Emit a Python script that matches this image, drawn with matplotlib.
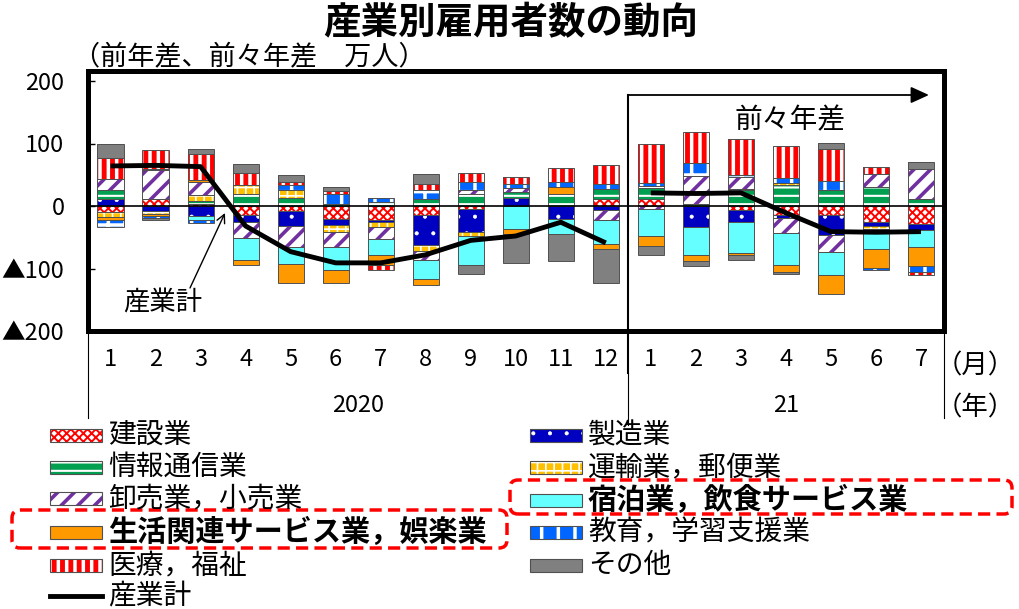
import matplotlib
matplotlib.use('Agg')
import matplotlib.pyplot as plt
from matplotlib.patches import Rectangle, FancyBboxPatch
from matplotlib.lines import Line2D
import numpy as np

plt.rcParams['font.family'] = ['Noto Sans CJK JP', 'DejaVu Sans']

# ---------------- data ----------------
months = ['1', '2', '3', '4', '5', '6', '7', '8', '9', '10', '11', '12',
          '1', '2', '3', '4', '5', '6', '7']
years = ['2020', '21']

construction  = [-9, 11, 3, -14, -8, -21, -22, -14, -4, 0, 0, 11, 11, 0, -6, -14, -14, -26, -29]
manufacturing = [11, -8, -16, -11, -24, -9, -4, -49, -37, 13, -20, -6, 0, -33, -20, -5, -32, -6, -9]
info_comm     = [14, 0, 5, 19, 13, 3, 7, 12, 20, 10, 19, 16, 18, 4, 25, 33, 25, 30, 12]
transport     = [-9, -4, 10, 15, 13, -11, -7, -9, -7, 0, 0, 0, 3, 0, 3, 4, 0, -5, 0]
wholesale     = [19, 46, 20, -26, -34, -25, -19, -14, 5, 6, 1, -17, -5, 44, 18, -24, -28, 21, 48]
accommodation = [0, 3, -7, -36, -27, -36, -26, -31, -47, -37, -24, -37, -43, -46, -49, -52, -37, -32, -27]
living        = [-4, -4, 3, -8, -30, -21, -16, -10, 0, -7, 10, -9, -16, -9, -4, -11, -30, -30, -31]
education     = [-12, -3, -4, 0, 7, 17, 6, 14, 13, 6, 8, 9, 5, 21, 4, 8, 15, -3, -9]
medical       = [33, 29, 43, 19, 5, 4, -8, 10, 15, 11, 23, 29, 62, 50, 57, 51, 51, 12, -6]
others        = [23, -4, 8, 15, 12, 7, 0, 16, -13, -47, -44, -54, -14, -8, -8, -2, 10, 0, 10]

total_2020 = [64, 65, 63, -32, -73, -91, -91, -78, -55, -48, -26, -59]
total_2021 = [21, 20, 21, -11, -41, -42, -41]

names = ['建設業', '製造業', '情報通信業', '運輸業，郵便業', '卸売業，小売業',
         '宿泊業，飲食サービス業', '生活関連サービス業，娯楽業', '教育，学習支援業',
         '医療，福祉', 'その他']
values = [construction, manufacturing, info_comm, transport, wholesale,
          accommodation, living, education, medical, others]

# styles: face, hatch, hatch colour, hatch linewidth
styles = [
    ('white', 'xxxx', '#FF0000', 1.4),
    ('#0000C0', '.', 'white', 0.5),
    ('#00A050', '--', 'white', 1.5),
    ('#FFC000', '++', 'white', 1.2),
    ('white', '//', '#7030A0', 2.6),
    ('#66FFFF', None, '#66FFFF', 1.0),
    ('#FF9900', None, '#FF9900', 1.0),
    ('#0066FF', '+', 'white', 2.5),
    ('white', '||', '#FF0000', 3.5),
    ('#808080', None, '#808080', 1.0),
]

W, H = 1019, 609
fig = plt.figure(figsize=(W / 100, H / 100), dpi=100)
ax = fig.add_axes([88 / W, (H - 331) / H, (943.5 - 88) / W, (331 - 71) / H])

x = np.arange(len(months))
width = 0.58
pos_base = np.zeros(len(months))
neg_base = np.zeros(len(months))

for vals, (face, hatch, hcol, hlw) in zip(values, styles):
    v = np.array(vals, dtype=float)
    pos = np.where(v > 0, v, 0)
    neg = np.where(v < 0, v, 0)
    for part, base in ((pos, pos_base), (neg, neg_base)):
        m = part != 0
        if not m.any():
            continue
        with plt.rc_context({'hatch.linewidth': hlw}):
            ax.bar(x[m], part[m], bottom=base[m], width=width, color=face,
                   edgecolor=hcol, linewidth=0, hatch=hatch, zorder=2)
        ax.bar(x[m], part[m], bottom=base[m], width=width, fill=False,
               edgecolor='#505050', linewidth=0.7, zorder=2.5)
    pos_base += pos
    neg_base += neg

ax.axhline(0, color='black', lw=1.2, zorder=3)

ax.plot(x[:12], total_2020, color='black', lw=3.5, zorder=4, solid_capstyle='butt')
ax.plot(x[12:], total_2021, color='black', lw=3.5, zorder=4, solid_capstyle='butt')

ax.set_xlim(-0.5, len(months) - 0.5)
ax.set_ylim(-200, 216)
ax.set_yticks([-200, -100, 0, 100, 200])
ax.set_yticklabels(['▲200', '▲100', '0', '100', '200'], fontsize=17)
ax.tick_params(axis='y', direction='in', length=5, width=1, pad=17)
ax.set_xticks([])
for s in ax.spines.values():
    s.set_linewidth(3.6)
    s.set_color('black')


def py(p):
    return (206 - p) / 0.625


def px(p):
    return (p - 88) / 45.03 - 0.5


# divider and arrow for 前々年差
ax.plot([11.5, 11.5], [py(95), py(373)], color='black', lw=1.5, clip_on=False, zorder=5)
ax.plot([11.5, 11.5], [py(373), py(425)], color='black', lw=0.8, clip_on=False, zorder=5)
ax.annotate('', xy=(px(929), py(95)), xytext=(11.5, py(95)),
            arrowprops=dict(arrowstyle='-|>,head_length=1.1,head_width=0.5',
                            lw=1.3, color='black', shrinkA=0, shrinkB=0))
ax.text(px(790), py(120), '前々年差', fontsize=20, ha='center', va='center')

# 産業計 annotation
ax.annotate('', xy=(px(225), py(213)), xytext=(px(190), py(288)),
            arrowprops=dict(arrowstyle='->,head_length=0.6,head_width=0.3',
                            lw=1.0, color='black', shrinkA=0, shrinkB=0))
ax.text(px(163), py(303), '産業計', fontsize=19, ha='center', va='center')

# month / year labels
for i, mth in enumerate(months):
    ax.text(i, py(360), mth, fontsize=17, ha='center', va='center', clip_on=False)
ax.text(5.5, py(405), years[0], fontsize=17, ha='center', va='center', clip_on=False)
ax.text(15.0, py(405), years[1], fontsize=17, ha='center', va='center', clip_on=False)
fig.text(975 / W, 1 - 366 / H, '（月）', fontsize=19, ha='center', va='center')
fig.text(975 / W, 1 - 408 / H, '（年）', fontsize=19, ha='center', va='center')

for xx, y1 in ((88, 418), (943.5, 418)):
    fig.add_artist(Line2D([xx / W, xx / W], [1 - 331 / H, 1 - y1 / H], color='black', lw=0.8))

# titles
fig.text(511 / W, 1 - 23 / H, '産業別雇用者数の動向', fontsize=27, fontweight='bold',
         ha='center', va='center')
fig.text(73 / W, 1 - 57 / H, '（前年差、前々年差　万人）', fontsize=19.5, ha='left', va='center')

# legend (manual)
left_items = [(0, 435), (2, 467), (4, 498), (6, 532), (8, 565)]
right_items = [(1, 435), (3, 467), (5, 500), (7, 532), (9, 565)]
bold_idx = {5, 6}


def legend_patch(idx, xp, yc):
    face, hatch, hcol, hlw = styles[idx]
    with plt.rc_context({'hatch.linewidth': hlw}):
        r = Rectangle((xp / W, 1 - (yc + 6.5) / H), 52 / W, 13 / H, transform=fig.transFigure,
                      facecolor=face, edgecolor=hcol, linewidth=0, hatch=hatch)
        fig.add_artist(r)
    fig.add_artist(Rectangle((xp / W, 1 - (yc + 6.5) / H), 52 / W, 13 / H,
                             transform=fig.transFigure, fill=False,
                             edgecolor='#505050', linewidth=0.8))
    bold = idx in bold_idx
    fig.text((xp + 58) / W, 1 - yc / H, names[idx], fontsize=21 if bold else 20,
             fontweight='bold' if bold else 'normal', ha='left', va='center')


for idx, yc in left_items:
    legend_patch(idx, 50, yc)
for idx, yc in right_items:
    legend_patch(idx, 530, yc)
fig.add_artist(Line2D([50 / W, 102 / W], [1 - 596 / H, 1 - 596 / H], color='black', lw=3.5))
fig.text(108 / W, 1 - 596 / H, '産業計', fontsize=20, ha='left', va='center')

# red dashed highlight boxes
for x0, y0, x1, y1 in ((12, 510, 507, 548), (510, 480, 1012, 514)):
    fig.add_artist(FancyBboxPatch((x0 / 100, (H - y1) / 100), (x1 - x0) / 100, (y1 - y0) / 100,
                                  boxstyle='round,pad=0,rounding_size=0.08',
                                  transform=fig.dpi_scale_trans, fill=False,
                                  edgecolor='#FF0000', lw=2.5, linestyle=(0, (3.5, 1.8))))

fig.savefig('out.png', dpi=100)
